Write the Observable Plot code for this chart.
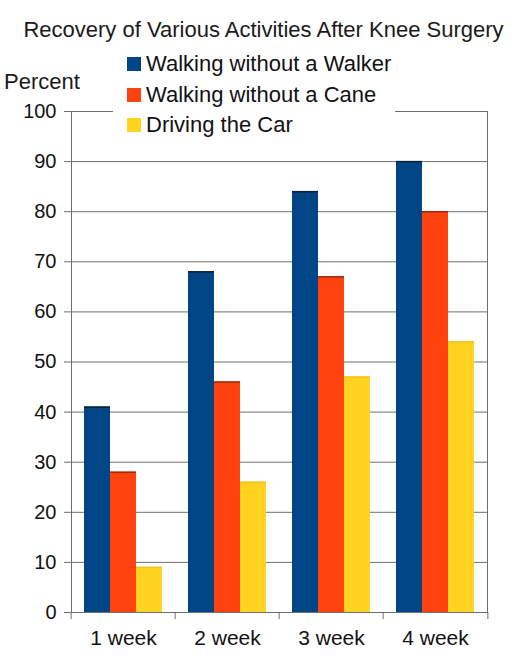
<!DOCTYPE html>
<html><head><meta charset="utf-8">
<script src="https://cdn.jsdelivr.net/npm/d3@7"></script>
<script src="https://cdn.jsdelivr.net/npm/@observablehq/plot@0.6"></script>
<style>
body{margin:0;background:#fff;font-family:"Liberation Sans",Arial,sans-serif;}
#wrap{position:relative;width:520px;height:656px;overflow:hidden;}
#chart{position:absolute;left:0;top:0;}
.txt{position:absolute;line-height:1;white-space:nowrap;color:#1a1a1a;}
#title{left:0;top:19px;width:527px;text-align:center;font-size:22px;}
#ylabel{left:4px;top:71px;font-size:22px;}
#legend{position:absolute;left:113px;top:51px;width:282px;height:88px;background:#fff;}
.row{position:absolute;left:0;height:22px;}
.sw{position:absolute;left:14px;top:6px;width:14px;height:14px;}
.lab{position:absolute;left:33px;top:2px;font-size:22px;line-height:1;white-space:nowrap;color:#111;}
</style></head><body>
<div id="wrap">
  <div id="chart"></div>
  <div id="title" class="txt">Recovery of Various Activities After Knee Surgery</div>
  <div id="ylabel" class="txt">Percent</div>
  <div id="legend"></div>
</div>
<script>
const weeks = ["1 week", "2 week", "3 week", "4 week"];
const series = ["Walking without a Walker", "Walking without a Cane", "Driving the Car"];
const walker = [41, 68, 84, 90];
const cane = [28, 46, 67, 80];
const car = [9, 26, 47, 54];
const yTicks = [0, 10, 20, 30, 40, 50, 60, 70, 80, 90, 100];
const colors = ["#004586", "#ff420e", "#ffd320"];
const edgeColors = ["#0d1d33", "#9a2a0c", "#f2c21c"];

const valuesBySeries = [walker, cane, car];
const table = weeks.flatMap((w, i) => series.map((s, j) => ({week: w, series: s, value: valuesBySeries[j][i], edge: edgeColors[j]})));

const mL = 69, mR = 32, W = 520;
const bw = (W - mL - mR) / weeks.length;
const gray = "#6e6e6e";

const chart = Plot.plot({
  width: W, height: 656,
  marginLeft: mL, marginRight: mR, marginTop: 111, marginBottom: 44,
  style: {fontFamily: "Liberation Sans, Arial, sans-serif", fontSize: "20px", color: "#111", background: "white"},
  fx: {domain: weeks, padding: 0, label: null},
  x: {domain: series, paddingInner: 0, paddingOuter: 0.49, axis: null},
  y: {domain: [0, 100], label: null},
  color: {domain: series, range: colors},
  marks: [
    Plot.gridY(yTicks, {stroke: gray, strokeOpacity: 1}),
    Plot.barY(table, {fx: "week", x: "series", y: "value", fill: "series", inset: 0}),
    Plot.tickY(table, {fx: "week", x: "series", y: "value", stroke: "edge", strokeWidth: 1.5}),
    Plot.frame({facet: "super", stroke: gray}),
    Plot.axisY(yTicks, {tickSize: 7, tickPadding: 8, stroke: gray, fill: "#111", fontSize: 20, label: null}),
    Plot.axisFx({anchor: "bottom", tickSize: 0, tickPadding: 18, fontSize: 21, fill: "#111", label: null}),
    Plot.axisFx({anchor: "bottom", tickSize: 7, tickFormat: () => "", dx: -bw / 2, stroke: gray, label: null}),
    Plot.axisFx({anchor: "bottom", ticks: [weeks[weeks.length - 1]], tickSize: 7, tickFormat: () => "", dx: bw / 2, stroke: gray, label: null})
  ]
});
document.getElementById("chart").appendChild(chart);

const legend = document.getElementById("legend");
series.forEach((s, i) => {
  const row = document.createElement("div");
  row.className = "row";
  row.style.top = (i * 30.5) + "px";
  row.innerHTML = `<div class="sw" style="background:${colors[i]}"></div><div class="lab">${s}</div>`;
  legend.appendChild(row);
});
</script>
</body></html>
